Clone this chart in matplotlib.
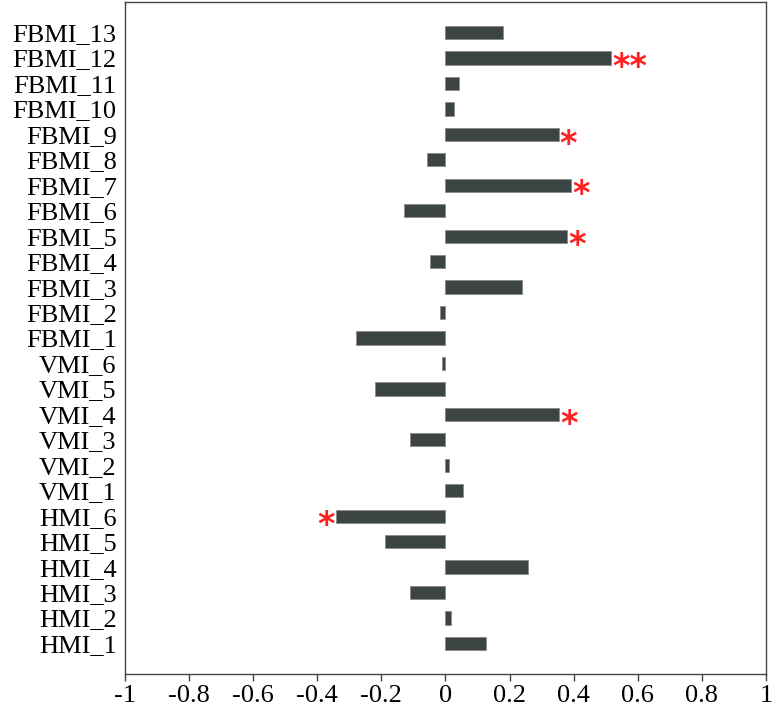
import numpy as np
import matplotlib
matplotlib.use('Agg')
import matplotlib.pyplot as plt

plt.rcParams['font.family'] = ['Liberation Serif', 'DejaVu Serif']

labels = ['HMI_1', 'HMI_2', 'HMI_3', 'HMI_4', 'HMI_5', 'HMI_6',
          'VMI_1', 'VMI_2', 'VMI_3', 'VMI_4', 'VMI_5', 'VMI_6',
          'FBMI_1', 'FBMI_2', 'FBMI_3', 'FBMI_4', 'FBMI_5', 'FBMI_6', 'FBMI_7',
          'FBMI_8', 'FBMI_9', 'FBMI_10', 'FBMI_11', 'FBMI_12', 'FBMI_13']
values = [0.126, 0.016, -0.111, 0.256, -0.188, -0.342,
          0.056, 0.011, -0.110, 0.355, -0.220, -0.012,
          -0.280, -0.016, 0.240, -0.048, 0.380, -0.130, 0.393,
          -0.057, 0.353, 0.027, 0.042, 0.517, 0.180]
stars = ['', '', '', '', '', '*',
         '', '', '', '*', '', '',
         '', '', '', '', '*', '', '*',
         '', '*', '', '', '**', '']

xticks = [-1, -0.8, -0.6, -0.4, -0.2, 0, 0.2, 0.4, 0.6, 0.8, 1]
xticklabels = ['-1', '-0.8', '-0.6', '-0.4', '-0.2', '0', '0.2', '0.4', '0.6', '0.8', '1']

fig = plt.figure(figsize=(7.73, 7.12), dpi=100)
ax = fig.add_axes([125 / 773, 38 / 712, 641 / 773, 672 / 712])

y = np.arange(len(labels))
ax.barh(y, values, height=0.52, color='#3d4444', edgecolor='#8a8a8a', linewidth=0.6)

for yi, v, s in zip(y, values, stars):
    if not s:
        continue
    if v >= 0:
        ax.text(v + 0.003, yi - 0.38, s, color='#ff2020', fontsize=24, fontweight='bold',
                ha='left', va='center', family='DejaVu Sans')
    else:
        ax.text(v - 0.003, yi - 0.38, s, color='#ff2020', fontsize=24, fontweight='bold',
                ha='right', va='center', family='DejaVu Sans')

ax.set_xlim(-1, 1)
ax.set_ylim(-1.2, 25.2)
ax.set_xticks(xticks)
ax.set_xticklabels(xticklabels)
ax.set_yticks(y)
ax.set_yticklabels(labels)
ax.tick_params(axis='x', direction='out', length=5, width=1, color='#444444',
               labelsize=19, pad=3)
ax.tick_params(axis='y', length=0, labelsize=19, pad=6)

for sp in ax.spines.values():
    sp.set_color('#444444')
    sp.set_linewidth(1)

fig.savefig('out.png', dpi=100)
